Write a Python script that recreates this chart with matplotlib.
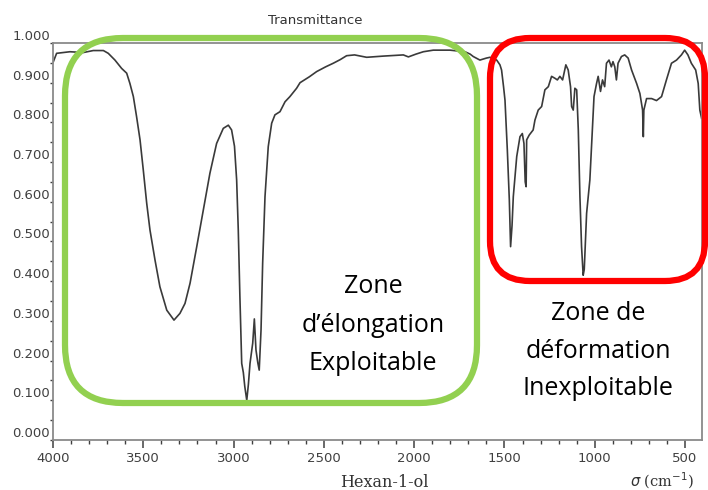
import matplotlib
matplotlib.use("Agg")
import matplotlib.pyplot as plt
from matplotlib.patches import FancyBboxPatch
from matplotlib.ticker import MultipleLocator, FormatStrFormatter

# IR spectrum of hexan-1-ol
wavenumber = [
    3998, 3980, 3906, 3832, 3777, 3721, 3694, 3657, 3620, 3592, 3574, 3555,
    3537, 3518, 3500, 3481, 3463, 3435, 3408, 3370, 3330, 3297, 3269, 3241,
    3204, 3168, 3131, 3094, 3057, 3029, 3011, 2995, 2983, 2974, 2965, 2955,
    2946, 2938, 2927, 2918, 2909, 2894, 2885, 2876, 2866, 2858, 2848, 2839,
    2826, 2808, 2789, 2771, 2743, 2715, 2688, 2651, 2632, 2580, 2540, 2490,
    2448, 2410, 2374, 2330, 2263, 2171, 2060, 2032, 1990, 1949, 1894, 1802,
    1719, 1690, 1673, 1636, 1600, 1580, 1543, 1525, 1516, 1505, 1497, 1484,
    1473, 1466, 1458, 1451, 1432, 1414, 1401, 1392, 1385, 1380, 1377, 1363,
    1341, 1331, 1313, 1294, 1276, 1257, 1239, 1220, 1207, 1193, 1178, 1160,
    1147, 1134, 1128, 1119, 1110, 1100, 1091, 1082, 1073, 1064, 1058, 1045,
    1027, 1018, 1004, 990, 981, 968, 957, 945, 935, 921, 908, 899,
    889, 880, 871, 852, 834, 815, 796, 768, 750, 735, 731, 728,
    713, 685, 658, 630, 603, 575, 547, 520, 502, 484, 465, 441,
    427, 418, 408,
]
transmittance = [
    0.953, 0.974, 0.978, 0.976, 0.981, 0.981, 0.974, 0.957, 0.936, 0.924, 0.898, 0.865,
    0.814, 0.756, 0.680, 0.596, 0.529, 0.453, 0.386, 0.327, 0.302, 0.319, 0.344, 0.395,
    0.487, 0.579, 0.672, 0.747, 0.785, 0.793, 0.781, 0.740, 0.655, 0.529, 0.361, 0.193,
    0.170, 0.135, 0.100, 0.140, 0.193, 0.244, 0.305, 0.227, 0.195, 0.176, 0.277, 0.445,
    0.613, 0.739, 0.798, 0.819, 0.827, 0.852, 0.865, 0.886, 0.900, 0.915, 0.928, 0.940,
    0.949, 0.958, 0.968, 0.970, 0.964, 0.967, 0.970, 0.965, 0.972, 0.978, 0.982, 0.982,
    0.978, 0.972, 0.966, 0.957, 0.962, 0.964, 0.957, 0.945, 0.932, 0.890, 0.856, 0.730,
    0.605, 0.487, 0.540, 0.613, 0.714, 0.764, 0.772, 0.747, 0.650, 0.638, 0.756, 0.768,
    0.781, 0.806, 0.831, 0.840, 0.882, 0.890, 0.916, 0.911, 0.907, 0.916, 0.907, 0.945,
    0.932, 0.890, 0.840, 0.831, 0.886, 0.882, 0.781, 0.613, 0.487, 0.415, 0.430, 0.571,
    0.655, 0.739, 0.865, 0.898, 0.916, 0.878, 0.907, 0.890, 0.949, 0.957, 0.940, 0.953,
    0.940, 0.907, 0.949, 0.966, 0.970, 0.962, 0.932, 0.898, 0.873, 0.831, 0.764, 0.831,
    0.860, 0.860, 0.855, 0.865, 0.907, 0.949, 0.957, 0.970, 0.982, 0.970, 0.949, 0.932,
    0.898, 0.831, 0.810,
]

green_label = ["Zone", "d\u2019élongation", "Exploitable"]
red_label = ["Zone de", "déformation", "Inexploitable"]

fig = plt.figure(figsize=(7.08, 4.90), dpi=100)
ax = fig.add_axes([53 / 708, 50 / 490, 649 / 708, 397 / 490])

ax.plot(wavenumber, transmittance, color="#3a3a3a", lw=1.2)
ax.set_xlim(4000, 406)
ax.set_ylim(0, 1.0)

ax.xaxis.set_major_locator(MultipleLocator(500))
ax.xaxis.set_minor_locator(MultipleLocator(100))
ax.yaxis.set_major_locator(MultipleLocator(0.1))
ax.yaxis.set_minor_locator(MultipleLocator(0.05))
ax.yaxis.set_major_formatter(FormatStrFormatter("%.3f"))

tick_col = "#404040"
ax.tick_params(axis="x", which="major", direction="out", length=5.8, width=1.1,
               pad=2.5, labelsize=9.5, colors=tick_col)
ax.tick_params(axis="x", which="minor", direction="out", length=2.9, width=1.0,
               colors=tick_col)
ax.tick_params(axis="y", which="major", direction="out", length=2.3, width=1.0,
               pad=-0.2, labelsize=9.5, colors=tick_col)
ax.tick_params(axis="y", which="minor", direction="out", length=2.3, width=1.0,
               colors=tick_col)
for tk in ax.yaxis.get_major_ticks():
    tk.label1.set_va("bottom")

for sp in ax.spines.values():
    sp.set_color("#8a8a8a")
    sp.set_linewidth(1.3)

# figure-level text, pixel positions via inches (dpi 100)
px = fig.dpi_scale_trans
fig.text(3.15, 4.69, "Transmittance", transform=px, ha="center", va="center",
         fontsize=9.5, color="#333333")
fig.text(3.40, 0.08, "Hexan-1-ol", transform=px, ha="left", va="center",
         fontsize=11.5, family="DejaVu Serif", color="#333333")
fig.text(6.30, 0.09, r"$\sigma$ (cm$^{-1}$)", transform=px, ha="left", va="center",
         fontsize=10.5, family="DejaVu Serif", color="#333333")

# highlight boxes
green_box = FancyBboxPatch((0.65, 0.87), 4.12, 3.65,
                           boxstyle="round,pad=0,rounding_size=0.58",
                           transform=px, fill=False, ec="#92D050", lw=4.5,
                           clip_on=False)
red_box = FancyBboxPatch((4.90, 2.09), 2.15, 2.43,
                         boxstyle="round,pad=0,rounding_size=0.40",
                         transform=px, fill=False, ec="#FF0000", lw=4.5,
                         clip_on=False)
fig.add_artist(green_box)
fig.add_artist(red_box)

for i, line in enumerate(green_label):
    fig.text(3.73, (490 - (293 + 38.5 * i)) / 100, line, transform=px,
             ha="center", va="baseline", fontsize=18, family="Open Sans",
             color="black")
for i, line in enumerate(red_label):
    fig.text(5.98, (490 - (320 + 37.5 * i)) / 100, line, transform=px,
             ha="center", va="baseline", fontsize=18, family="Open Sans",
             color="black")

fig.savefig("out.png", dpi=100, facecolor="white")
